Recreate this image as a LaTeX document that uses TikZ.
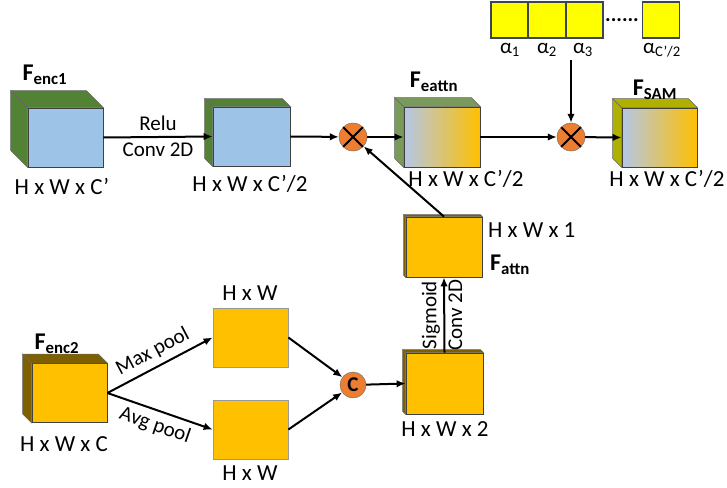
\documentclass[tikz,border=0pt]{standalone}
\usepackage{fontspec}
\setmainfont{Carlito}
\usetikzlibrary{arrows.meta}

\definecolor{encgreen}{HTML}{548235}
\definecolor{attngreen}{HTML}{7A9A5C}
\definecolor{samolive}{HTML}{B0B000}
\definecolor{encgold}{HTML}{7F6000}
\definecolor{mapgold}{HTML}{FFC000}
\definecolor{mapblue}{HTML}{9DC3E6}
\definecolor{gradblue}{HTML}{B4C7E7}
\definecolor{opcircle}{HTML}{ED7D31}
\definecolor{alphafill}{HTML}{FFFF00}
\definecolor{alphaline}{HTML}{3A4658}

% top and side faces behind a feature block
\newcommand{\blockdepth}[3]{%
  \filldraw[fill=#3, draw=black!60, line width=0.5pt] (#1.north west) -- ++(-#2,-#2) -- ([shift={(-#2,-#2)}]#1.south west) -- (#1.south west) -- cycle;
  \filldraw[fill=#3, draw=black!60, line width=0.5pt] (#1.north west) -- ++(-#2,-#2) -- ([shift={(-#2,-#2)}]#1.north east) -- (#1.north east) -- cycle;
}

\begin{document}
\begin{tikzpicture}[
    x=1pt, y=-1pt,
    >={Latex[length=9pt, width=7.5pt]},
    feat/.style={draw=black!75, line width=0.8pt, minimum width=75pt, minimum height=59pt, inner sep=0pt},
    mapbox/.style={draw=black!40, line width=0.8pt, fill=mapgold, minimum width=75pt, minimum height=59pt, inner sep=0pt},
    alphabox/.style={draw=alphaline, line width=1.2pt, fill=alphafill, minimum width=37pt, minimum height=36pt, inner sep=0pt},
    mult/.style={circle, draw=black!60, fill=opcircle, minimum size=28pt, inner sep=0pt,
        path picture={\draw[black, line width=2pt] (path picture bounding box.south west) -- (path picture bounding box.north east)
            (path picture bounding box.north west) -- (path picture bounding box.south east);}},
    catop/.style={circle, draw=black!60, fill=opcircle, minimum size=26pt, inner sep=0pt, font=\fontsize{21}{22}\selectfont\bfseries},
    dim/.style={font=\fontsize{23}{25}\selectfont, inner sep=1pt},
    fname/.style={font=\fontsize{24}{26}\selectfont\bfseries, inner sep=1pt},
    lbl/.style={font=\fontsize{21}{23}\selectfont},
    conn/.style={line width=2pt, ->}
    ]

    \useasboundingbox (0,0) rectangle (727,487);

    % Top row of feature blocks
    \node[feat, fill=mapblue] (enc1) at (65.5,137.5) {};
    \node[feat, fill=mapblue, minimum width=77pt] (conv1) at (251.5,136.5) {};
    \node[feat, left color=gradblue, right color=mapgold, minimum width=76pt, minimum height=60pt] (eattn) at (442,137) {};
    \node[feat, left color=gradblue, right color=mapgold] (sam) at (659.5,137.5) {};
    \blockdepth{enc1}{17}{encgreen}
    \blockdepth{conv1}{8}{encgreen}
    \blockdepth{eattn}{9}{attngreen}
    \blockdepth{sam}{9}{samolive}

    \node[fname] (enc1name) at (45,75) {F\textsubscript{enc1}};
    \node[fname] (eattnname) at (434,82) {F\textsubscript{eattn}};
    \node[fname] (samname) at (655,90) {F\textsubscript{SAM}};
    \node[dim] (enc1dim) at (62,186) {H x W x C’};
    \node[dim] (conv1dim) at (250,184) {H x W x C’/2};
    \node[dim] (eattndim) at (466,179) {H x W x C’/2};
    \node[dim] (samdim) at (667,179) {H x W x C’/2};

    % Multiplications
    \node[mult] (m1) at (353,137) {};
    \node[mult] (m2) at (571,137) {};

    % Channel weights
    \node[alphabox] (a1) at (509.5,20) {};
    \node[alphabox] (a2) at (547,20) {};
    \node[alphabox] (a3) at (584.5,20) {};
    \node[font=\fontsize{21}{22}\selectfont\bfseries, anchor=base, inner sep=0pt] (adots) at (622,22) {......};
    \node[alphabox] (an) at (661,20) {};
    \node[lbl] (a1lbl) at (510,50) {α\textsubscript{1}};
    \node[lbl] (a2lbl) at (547,50) {α\textsubscript{2}};
    \node[lbl] (a3lbl) at (583,50) {α\textsubscript{3}};
    \node[lbl] (anlbl) at (662,50) {α\textsubscript{C’/2}};

    % Spatial attention branch
    \node[feat, fill=mapgold, minimum width=76pt, minimum height=60pt] (attn) at (444,247) {};
    \blockdepth{attn}{2}{encgold}
    \node[dim, anchor=west] (attndim) at (487,230) {H x W x 1};
    \node[fname, anchor=west] (attnname) at (489,265) {F\textsubscript{attn}};

    \node[feat, fill=mapgold, minimum width=77pt, minimum height=61pt] (cat2) at (444.5,383.5) {};
    \blockdepth{cat2}{3}{encgold}
    \node[dim] (cat2dim) at (445,429) {H x W x 2};

    \node[catop] (cat) at (353,385) {C};

    % Bottom left input and pooling
    \node[feat, fill=mapgold] (enc2) at (69.5,393) {};
    \blockdepth{enc2}{9}{encgold}
    \node[fname] (enc2name) at (57,344) {F\textsubscript{enc2}};
    \node[dim] (enc2dim) at (64,444) {H x W x C};

    \node[mapbox] (mp) at (250.5,337.5) {};
    \node[mapbox] (ap) at (250.5,429.5) {};
    \node[dim] (mpdim) at (250,293) {H x W};
    \node[dim] (apdim) at (250,473) {H x W};

    % Connections
    \draw[conn] (enc1.east) -- node[above=2pt, lbl]{Relu} node[below=2pt, lbl]{Conv 2D} (conv1.west);
    \draw[conn] (conv1.east) -- (m1);
    \draw[conn] (m1) -- (eattn.west);
    \draw[conn] (eattn.east) -- (m2);
    \draw[conn] (m2) -- (sam.west);
    \draw[conn] (m2 |- a3lbl.south) -- (m2);
    \draw[conn] (attn.north) -- (m1);

    \draw[conn] (enc2.east) -- node[above=2pt, sloped, lbl]{Max pool} (mp.west);
    \draw[conn] (enc2.east) -- node[below=2pt, sloped, lbl]{Avg pool} (ap.west);
    \draw[conn] (mp.east) -- (cat);
    \draw[conn] (ap.east) -- (cat);
    \draw[conn] (cat) -- (cat2.west);
    \draw[conn] (cat2.north) -- node[rotate=90, anchor=south, lbl]{Sigmoid} node[rotate=90, anchor=north, lbl]{Conv 2D} (attn.south);

\end{tikzpicture}
\end{document}
